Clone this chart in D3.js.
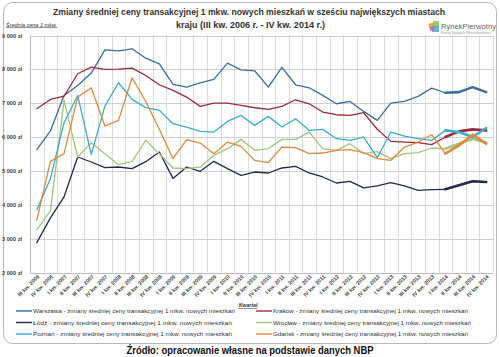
<!DOCTYPE html>
<html><head><meta charset="utf-8">
<script src="https://cdn.jsdelivr.net/npm/d3@7"></script>
<style>body{margin:0;background:#fff}svg{display:block}</style>
</head><body><div id="c"></div>
<script>
const quarters = ["III kw. 2006","IV kw. 2006","I kw. 2007","II kw. 2007","III kw. 2007","IV kw. 2007","I kw. 2008","II kw. 2008","III kw. 2008","IV kw. 2008","I kw. 2009","II kw. 2009","III kw. 2009","IV kw. 2009","I kw. 2010","II kw. 2010","III kw. 2010","IV kw. 2010","I kw. 2011","II kw. 2011","III kw. 2011","IV kw. 2011","I kw. 2012","II kw. 2012","III kw. 2012","IV kw. 2012","I kw. 2013","II kw. 2013","III kw. 2013","IV kw. 2013","I kw. 2014","II kw. 2014","III kw. 2014","IV kw. 2014"];
const warszawa = [5630,6180,7230,7525,7890,8577,8548,8607,8330,8164,7555,7476,7604,7702,8184,7987,7958,7476,8060,7545,7456,7230,6984,7053,6758,6493,7004,7053,7201,7447,7309,7328,7476,7328];
const krakow   = [6837,7112,7210,7870,8066,8000,8007,8036,7820,7545,7378,7181,6906,7004,7004,6935,6866,6817,6906,7102,6984,6739,6660,6640,6719,6230,5873,5853,5834,5775,6001,6168,6227,6198];
const lodz     = [2884,3612,4232,5411,5264,5096,5116,5066,5273,5559,4780,5116,4988,5283,5067,4870,4968,4939,5087,5136,4939,4821,4644,4693,4497,4556,4654,4556,4428,4448,4458,4576,4693,4674];
const wroclaw  = [3268,3818,7083,5411,5834,5510,5185,5283,5903,5510,5087,5067,5116,5460,5657,5932,5608,5657,5932,5932,6148,5657,5608,5804,5510,5568,5362,5510,5539,5677,5657,5804,5952,5834];
const poznan   = [3850,4770,6424,7230,5490,6915,7604,7112,6871,6788,6394,6296,6168,6148,6463,6640,6345,6611,6296,6542,6198,6227,5952,5903,6001,5390,6148,6030,5952,5903,6198,6148,6001,6267];
const gdansk   = [3550,5283,5510,7180,7456,6325,6493,7751,7050,6230,5360,5922,5824,5510,5853,5726,5313,5244,5706,5686,5510,5529,5608,5627,5539,5362,5313,5706,5853,6070,5510,5755,6070,5804];
const yTicks = [2000,3000,4000,5000,6000,7000,8000,9000];
const cities = ["Warszawa","Kraków","Łódź","Wrocław","Poznań","Gdańsk"];
const suffix = " - zmiany średniej ceny transakcyjnej 1 mkw. nowych mieszkań";
const colors = ["#3a6e9c","#9c2b3c","#1f2b4c","#a5c57c","#3aaecb","#dd8a3e"];
const seriesVals = [warszawa, krakow, lodz, wroclaw, poznan, gdansk];
const thickFrom = 30;

const W=500,H=357;
const svg=d3.select("#c").append("svg").attr("width",W).attr("height",H);
const F="'Liberation Sans', Arial, sans-serif";
svg.append("rect").attr("width",W).attr("height",H).attr("fill","#fff");
svg.append("rect").attr("x",3.5).attr("y",2.5).attr("width",493).attr("height",341).attr("rx",9)
  .attr("fill","#fff").attr("stroke","#b8b8b8").attr("stroke-width",1);

// title
svg.append("text").attr("x",249).attr("y",14.5).attr("text-anchor","middle").attr("font-family",F)
  .attr("font-weight","bold").attr("font-size",9.6).attr("fill","#333")
  .attr("textLength",392).attr("lengthAdjust","spacingAndGlyphs")
  .text("Zmiany średniej ceny transakcyjnej 1 mkw. nowych mieszkań w sześciu największych miastach");
svg.append("text").attr("x",250.5).attr("y",28).attr("text-anchor","middle").attr("font-family",F)
  .attr("font-weight","bold").attr("font-size",9.6).attr("fill","#333")
  .attr("textLength",149).attr("lengthAdjust","spacingAndGlyphs")
  .text("kraju (III kw. 2006 r. - IV kw. 2014 r.)");

// logo
const lg=svg.append("g").attr("transform","translate(429,21)");
lg.append("rect").attr("x",0).attr("y",2).attr("width",6).attr("height",6).attr("fill","#f0a040").attr("transform","rotate(-15 3 5)");
lg.append("rect").attr("x",4).attr("y",0).attr("width",6).attr("height",6).attr("fill","#8cc152").attr("opacity",0.85);
lg.append("rect").attr("x",3).attr("y",5).attr("width",7).attr("height",6).attr("fill","#4aa3df").attr("opacity",0.8);
lg.append("rect").attr("x",1).attr("y",6).attr("width",4).attr("height",4).attr("fill","#e05a8a").attr("opacity",0.7);
lg.append("text").attr("x",12).attr("y",8).attr("font-family",F).attr("font-size",7.2).attr("fill","#666")
  .attr("textLength",55).attr("lengthAdjust","spacingAndGlyphs").text("RynekPierwotny");
lg.append("text").attr("x",12).attr("y",12.5).attr("font-family",F).attr("font-size",2.6).attr("fill","#999")
  .attr("textLength",50).attr("lengthAdjust","spacingAndGlyphs").text("Portal Nowych Nieruchomości");

// axis title
svg.append("text").attr("x",6).attr("y",26.5).attr("font-family",F).attr("font-style","italic")
  .attr("font-size",5.5).attr("fill","#333").attr("text-decoration","underline")
  .attr("textLength",51).attr("lengthAdjust","spacingAndGlyphs").text("Średnia cena 1 mkw.");

const x=d3.scaleBand().domain(quarters).range([30,493]).padding(0);
const y=d3.scaleLinear().domain([2000,9000]).range([272.5,35.5]);
const cx=d=>x(d)+x.bandwidth()/2;

const grid=svg.append("g");
const edges=quarters.map(q=>x(q)).concat([x.range()[1]]);
grid.selectAll("line.v").data(edges).join("line").attr("class","v")
  .attr("x1",d=>Math.round(d)+0.5).attr("x2",d=>Math.round(d)+0.5).attr("y1",y(9000)).attr("y2",y(2000))
  .attr("stroke","#dcdcdc").attr("stroke-width",1);
grid.selectAll("line.h").data(yTicks).join("line").attr("class","h")
  .attr("x1",30).attr("x2",493).attr("y1",d=>Math.round(y(d))+0.5).attr("y2",d=>Math.round(y(d))+0.5)
  .attr("stroke","#d0d0d0").attr("stroke-width",1);
svg.append("line").attr("x1",30.5).attr("x2",30.5).attr("y1",y(9000)).attr("y2",y(2000)).attr("stroke","#bdbdbd");
svg.append("line").attr("x1",30).attr("x2",493).attr("y1",Math.round(y(2000))+0.5).attr("y2",Math.round(y(2000))+0.5).attr("stroke","#bdbdbd");

const fmt=d=>d3.format(",")(d).replace(",", " ")+" zł";
svg.selectAll("text.yl").data(yTicks).join("text").attr("class","yl")
  .attr("x",22).attr("y",d=>y(d)+2).attr("text-anchor","end").attr("font-family",F)
  .attr("font-size",5.6).attr("font-weight","bold").attr("fill","#444").text(fmt);

svg.selectAll("text.xl").data(quarters).join("text").attr("class","xl")
  .attr("transform",d=>`translate(${cx(d)+3},${277}) rotate(-45)`).attr("text-anchor","end")
  .attr("font-family",F).attr("font-size",5.4).attr("font-weight","bold").attr("fill","#444").text(d=>d);

svg.append("text").attr("x",248).attr("y",307).attr("text-anchor","middle").attr("font-family",F)
  .attr("font-style","italic").attr("font-weight","bold").attr("font-size",5.2).attr("fill","#333")
  .attr("text-decoration","underline").text("Kwartał");

const line=d3.line().x(d=>cx(d.q)).y(d=>y(d.v));
const lines=svg.append("g").attr("fill","none").attr("stroke-linejoin","round").attr("stroke-linecap","round");
seriesVals.forEach((vals,k)=>{
  const pts=vals.map((v,i)=>({q:quarters[i],v,i}));
  lines.append("path").attr("d",line(pts.filter(p=>p.i<=thickFrom))).attr("stroke",colors[k]).attr("stroke-width",1.3);
});
seriesVals.forEach((vals,k)=>{
  const pts=vals.map((v,i)=>({q:quarters[i],v,i}));
  lines.append("path").attr("d",line(pts.filter(p=>p.i>=thickFrom))).attr("stroke",colors[k]).attr("stroke-width",2.6);
});

const legPos=[[16,313],[256,313],[16,324.5],[256,324.5],[16,336],[256,336]];
cities.forEach((c,k)=>{
  const [lx,ly]=legPos[k];
  svg.append("line").attr("x1",lx).attr("x2",lx+16).attr("y1",ly-2).attr("y2",ly-2).attr("stroke",colors[k]).attr("stroke-width",1.4);
  const t=c+suffix;
  svg.append("text").attr("x",lx+17).attr("y",ly).attr("font-family",F).attr("font-size",6).attr("fill","#333")
    .attr("textLength",(k%2?198:202)-(c.length<7?3:0)).attr("lengthAdjust","spacingAndGlyphs").text(t);
});

svg.append("text").attr("x",250).attr("y",354).attr("text-anchor","middle").attr("font-family",F)
  .attr("font-weight","bold").attr("font-size",11).attr("fill","#111")
  .attr("textLength",247).attr("lengthAdjust","spacingAndGlyphs")
  .text("Źródło: opracowanie własne na podstawie danych NBP");
</script></body></html>
